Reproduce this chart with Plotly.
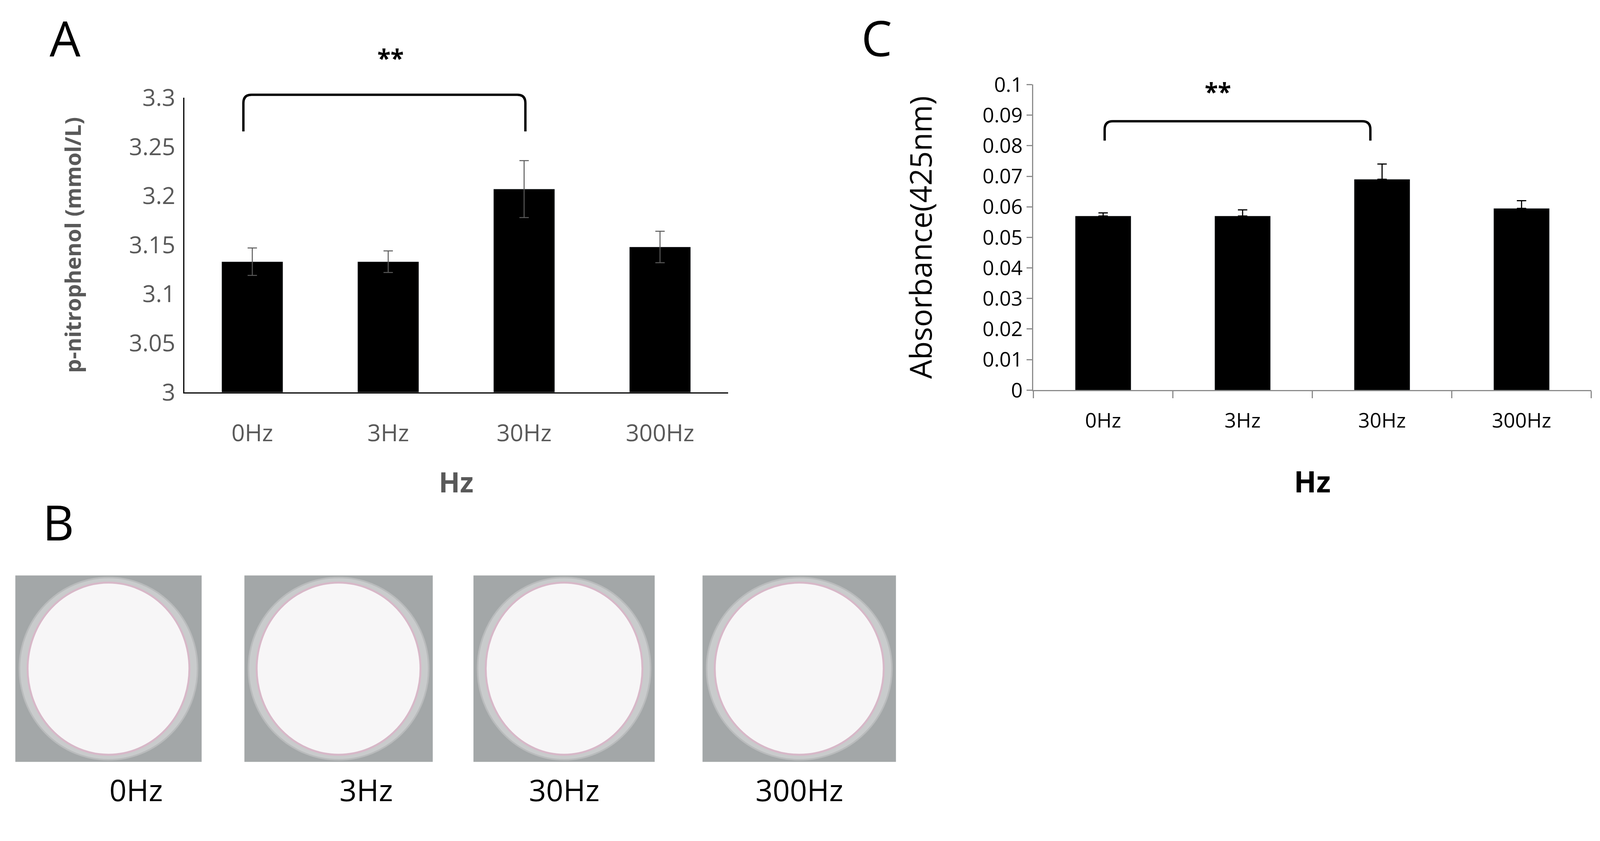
import plotly.graph_objects as go

W, H = 1568, 794  # design units of the reference picture
K = 1 / 1.04      # rendered picture comes out ~4% larger than the reference

categories = ["0Hz", "3Hz", "30Hz", "300Hz"]
a_values = [3.133, 3.133, 3.207, 3.148]
a_err = [0.014, 0.011, 0.029, 0.016]
c_values = [0.057, 0.057, 0.069, 0.0595]
c_err = [0.001, 0.002, 0.005, 0.0025]
a_ticks = [3, 3.05, 3.1, 3.15, 3.2, 3.25, 3.3]
c_ticks = [0, 0.01, 0.02, 0.03, 0.04, 0.05, 0.06, 0.07, 0.08, 0.09, 0.1]


def px(x):
    return K * x / W


def py(y):
    return 1 - K * y / H


def fs(s):
    return round(s * K)


GREY = "#595959"
fig = go.Figure()
fig.add_trace(go.Bar(x=categories, y=a_values, width=0.45, marker_color="black",
                     error_y=dict(type="data", array=a_err, color=GREY, thickness=2.5, width=12),
                     xaxis="x", yaxis="y"))
fig.add_trace(go.Bar(x=categories, y=c_values, width=0.4, marker_color="black",
                     error_y=dict(type="data", symmetric=False, array=c_err, arrayminus=[0] * 4,
                                  color="black", thickness=3, width=12),
                     xaxis="x2", yaxis="y2"))

fig.update_layout(
    width=4250, height=2152, showlegend=False, plot_bgcolor="white", paper_bgcolor="white",
    margin=dict(l=0, r=0, t=0, b=0, autoexpand=False), font=dict(family="Open Sans", color="black"),
    xaxis=dict(domain=[px(178), px(712)], range=[-0.5, 3.5], showline=True, linecolor="black",
               linewidth=3, ticks="", automargin=False, ticklabelstandoff=50,
               tickfont=dict(size=fs(62), color=GREY),
               title=dict(text="<b>Hz</b>", font=dict(size=fs(74), color=GREY), standoff=65)),
    yaxis=dict(domain=[py(382), py(93)], range=[3, 3.3], tickvals=a_ticks, automargin=False,
               ticktext=["3", "3.05", "3.1", "3.15", "3.2", "3.25", "3.3"],
               showline=True, linecolor="black", linewidth=3, showgrid=False, ticks="",
               tickfont=dict(size=fs(62), color=GREY), ticklabelstandoff=8,
               title=dict(text="<b>p-nitrophenol (mmol/L)</b>", font=dict(size=fs(58), color=GREY), standoff=105)),
    xaxis2=dict(domain=[px(1012), px(1560)], range=[-0.5, 3.5], anchor="y2", showline=True,
                linecolor="#8c8c8c", linewidth=3, ticks="outside", tickson="boundaries",
                automargin=False, ticklen=18, tickwidth=3, tickcolor="#8c8c8c", ticklabelstandoff=30,
                tickfont=dict(size=fs(54), color="black"),
                title=dict(text="<b>Hz</b>", font=dict(size=fs(78), color="black"), standoff=100)),
    yaxis2=dict(domain=[py(380), py(80)], range=[0, 0.1], anchor="x2", tickvals=c_ticks,
                ticktext=[f"{v:g}" for v in c_ticks], showline=True, linecolor="#8c8c8c",
                automargin=False, linewidth=3, ticks="outside", ticklen=14, tickwidth=3,
                tickcolor="#8c8c8c", showgrid=False, tickfont=dict(size=fs(54), color="black"),
                title=dict(text="Absorbance(425nm)", font=dict(size=fs(80), color="black"), standoff=105)),
)


def bracket(x0, x1, ytop, ybot, r=8):
    X0, X1 = px(x0), px(x1)
    YT, YB = py(ytop), py(ybot)
    dx, dy = K * r / W, K * r / H
    return (f"M {X0},{YB} L {X0},{YT - dy} Q {X0},{YT} {X0 + dx},{YT} "
            f"L {X1 - dx},{YT} Q {X1},{YT} {X1},{YT - dy} L {X1},{YB}")


fig.add_shape(type="path", xref="paper", yref="paper", line=dict(color="black", width=6),
              path=bracket(236, 513, 90, 126))
fig.add_annotation(x=px(367), y=py(37), xref="paper", yref="paper", text="<b>**</b>",
                   showarrow=False, font=dict(size=fs(64)))
fig.add_shape(type="path", xref="paper", yref="paper", line=dict(color="black", width=6),
              path=bracket(1082, 1343, 116, 135))
fig.add_annotation(x=px(1207), y=py(70), xref="paper", yref="paper", text="<b>**</b>",
                   showarrow=False, font=dict(size=fs(64)))

# panel letters
for letter, x, y, anchor in [("A", 45, 0, "top"), ("B", 38, 509, "middle"), ("C", 858, 0, "top")]:
    fig.add_annotation(x=px(x), y=py(y), xref="paper", yref="paper", text=letter,
                       showarrow=False, yanchor=anchor, font=dict(size=fs(130), color="black"))

# panel B well photos (approximated)
wells = [(12, 195), (237, 422), (462, 640), (687, 877)]
for (x0, x1), lab in zip(wells, categories):
    fig.add_shape(type="rect", xref="paper", yref="paper", x0=px(x0), x1=px(x1),
                  y0=py(745), y1=py(562), fillcolor="#a3a7a8", line_width=0)
    fig.add_shape(type="circle", xref="paper", yref="paper", x0=px(x0 + 4), x1=px(x1 - 4),
                  y0=py(743), y1=py(564), fillcolor="#c9cbcc", line=dict(color="#b9bbbc", width=4))
    fig.add_shape(type="circle", xref="paper", yref="paper", x0=px(x0 + 12), x1=px(x1 - 12),
                  y0=py(738), y1=py(569), fillcolor="#f7f6f7", line=dict(color="#d7b8c8", width=5))
    fig.add_annotation(x=px((x0 + x1) / 2), y=py(793), xref="paper", yref="paper", text=lab,
                       showarrow=False, font=dict(size=fs(80), color="black"))

fig.write_html("out.html")
